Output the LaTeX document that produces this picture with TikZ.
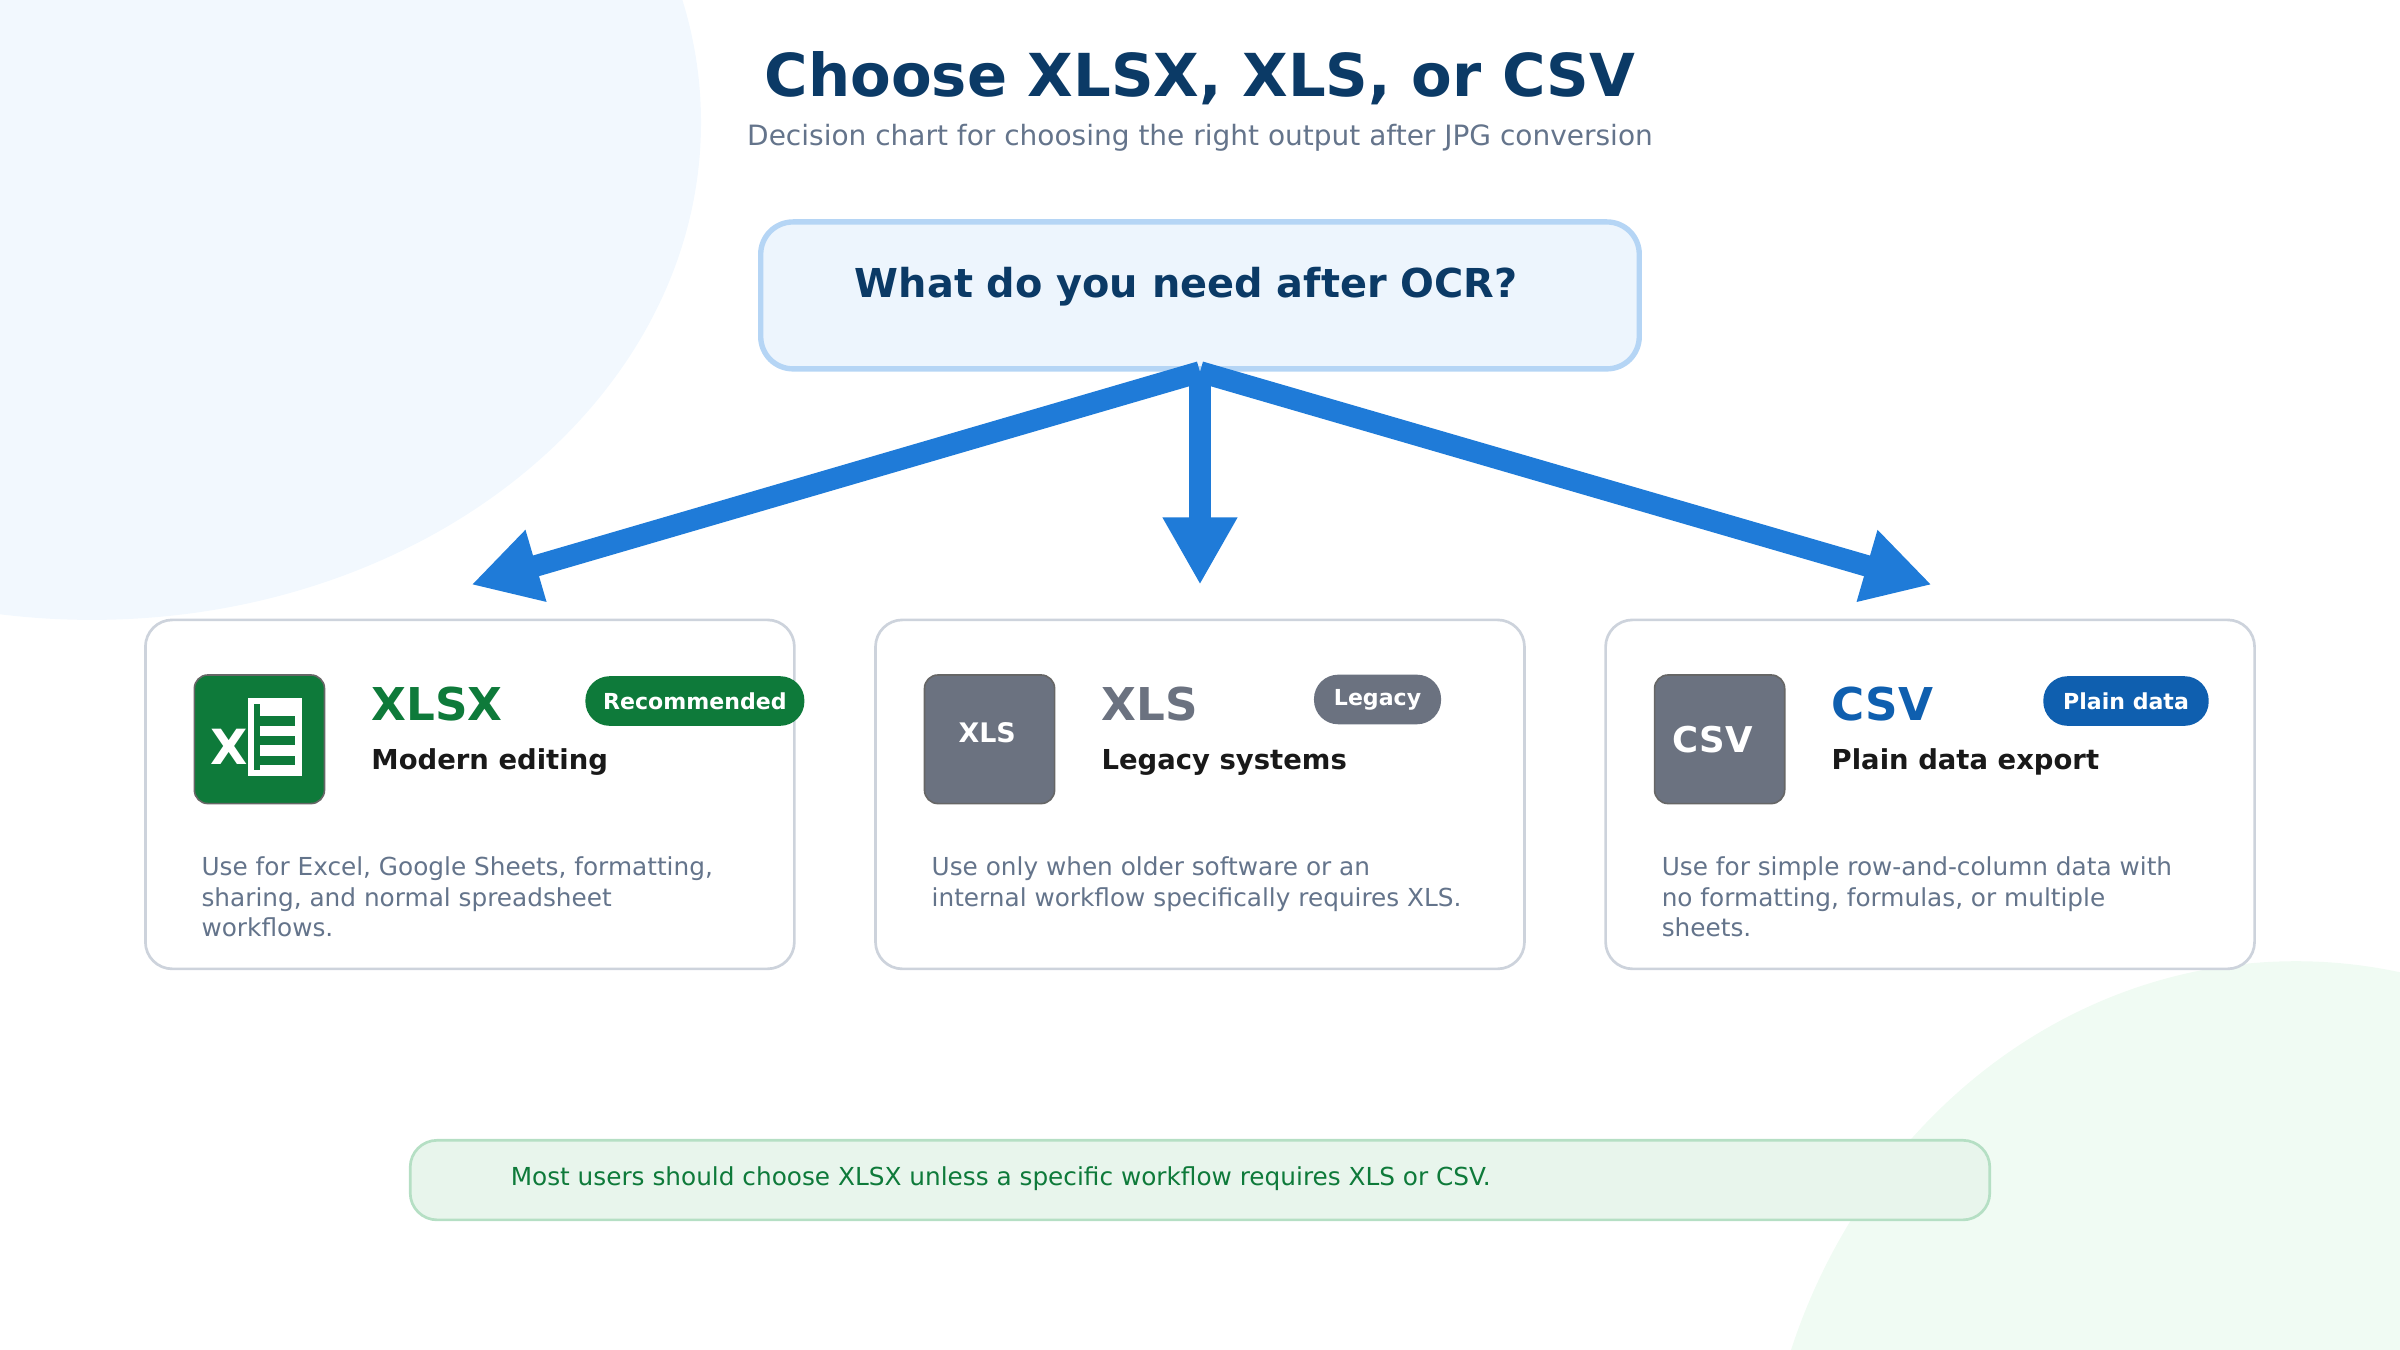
\documentclass[tikz,border=0pt]{standalone}
\usepackage{fontspec}
\setmainfont{DejaVu Sans}
\usetikzlibrary{arrows.meta,positioning}
\definecolor{navy}{HTML}{0B3A66}
\definecolor{greytext}{HTML}{64748B}
\definecolor{arrowblue}{HTML}{1F7BD8}
\definecolor{xgreen}{HTML}{0E7A3A}
\definecolor{slate}{HTML}{6B7280}
\definecolor{csvblue}{HTML}{0F5FAF}
\definecolor{cardline}{HTML}{CDD3DC}
\definecolor{blobblue}{HTML}{F2F8FE}
\definecolor{blobgreen}{HTML}{F0FBF3}
\definecolor{qfill}{HTML}{EDF5FD}
\definecolor{qline}{HTML}{B5D5F5}
\definecolor{nfill}{HTML}{E8F5EC}
\definecolor{nline}{HTML}{B5DFC4}
\begin{document}
\begin{tikzpicture}[x=0.01cm,y=-0.01cm,
    card/.style={draw=cardline,line width=0.5pt,rounded corners=5pt,fill=white},
    icon/.style={rounded corners=2.5pt,draw=black!60,line width=0.3pt},
    pill/.style={rounded corners=4.5pt,inner sep=0pt,minimum height=0.324cm,text=white,font=\fontsize{4.1}{5}\selectfont\bfseries},
    fmt/.style={anchor=base west,inner sep=0pt,font=\fontsize{8.4}{10}\selectfont\bfseries},
    sub/.style={anchor=base west,inner sep=0pt,font=\fontsize{5.1}{6}\selectfont\bfseries,text=black!90},
    body/.style={anchor=north west,inner sep=0pt,align=left,text=greytext,font=\fontsize{4.6}{5.7}\selectfont},
    arr/.style={arrowblue,line width=4pt,-{Triangle[width=13pt,length=12.5pt]}}]
  \useasboundingbox (0,0) rectangle (1568,882);
  \clip (0,0) rectangle (1568,882);
  % background blobs
  \fill[blobblue] (60,80) ellipse [x radius=398, y radius=325];
  \fill[blobgreen] (1500,1010) ellipse [x radius=350, y radius=382];
  % title
  \node[text=navy,font=\fontsize{11}{13}\selectfont\bfseries] (title) at (784,51) {Choose XLSX, XLS, or CSV};
  \node[text=greytext,font=\fontsize{5.2}{6}\selectfont] (subtitle) at (784,90) {Decision chart for choosing the right output after JPG conversion};
  % question
  \draw[draw=qline,fill=qfill,line width=1pt,rounded corners=6pt] (497,145) rectangle (1071,241);
  \node[text=navy,font=\fontsize{7.4}{9}\selectfont\bfseries] (q) at (775,187) {What do you need after OCR?};
  \coordinate (qb) at (784,243);
  \coordinate (t1) at (308,382);
  \coordinate (t2) at (784,382);
  \coordinate (t3) at (1262,382);
  \draw[arr] (qb) -- (t1);
  \draw[arr] (qb) -- (t2);
  \draw[arr] (qb) -- (t3);
  % cards
  \draw[card] (95,405) rectangle (519,633);
  \draw[card] (572,405) rectangle (996,633);
  \draw[card] (1049,405) rectangle (1473,633);
  % XLSX
  \draw[icon,fill=xgreen] (127,441) rectangle (212,525);
  \fill[white] (162,456) rectangle (197,507);
  \foreach \yy in {468,481,494} \fill[xgreen] (170,\yy) rectangle (193,\yy+6);
  \fill[xgreen] (166,460) rectangle (170,503);
  \node[text=white,font=\fontsize{9}{10}\selectfont\bfseries] (xl) at (150,488) {X};
  \node[fmt,text=xgreen] (xlsx) at (242,471) {XLSX};
  \node[sub] (xlsxsub) at (242,503) {Modern editing};
  \node[pill,fill=xgreen,minimum width=1.43cm] (rec) at (454,458) {Recommended};
  \node[body] (xlsxtxt) at (131,559) {Use for Excel, Google Sheets, formatting,\\sharing, and normal spreadsheet\\workflows.};
  % XLS
  \draw[icon,fill=slate] (604,441) rectangle (689,525);
  \node[text=white,font=\fontsize{5}{6}\selectfont\bfseries] (xlsico) at (645,479) {XLS};
  \node[fmt,text=slate] (xls) at (719,471) {XLS};
  \node[sub] (xlssub) at (719,503) {Legacy systems};
  \node[pill,fill=slate,minimum width=0.83cm] (leg) at (900,457) {Legacy};
  \node[body] (xlstxt) at (608,559) {Use only when older software or an\\internal workflow specifically requires XLS.};
  % CSV
  \draw[icon,fill=slate] (1081,441) rectangle (1166,525);
  \node[text=white,font=\fontsize{6.6}{8}\selectfont\bfseries] (csvico) at (1119,483) {CSV};
  \node[fmt,text=csvblue] (csv) at (1196,471) {CSV};
  \node[sub] (csvsub) at (1196,503) {Plain data export};
  \node[pill,fill=csvblue,minimum width=1.08cm] (pd) at (1389,458) {Plain data};
  \node[body] (csvtxt) at (1085,559) {Use for simple row-and-column data with\\no formatting, formulas, or multiple\\sheets.};
  % footer
  \draw[draw=nline,fill=nfill,line width=0.5pt,rounded corners=5pt] (268,745) rectangle (1300,797);
  \node[anchor=west,inner sep=0pt,text=xgreen,font=\fontsize{4.6}{6}\selectfont] (note) at (333,770) {Most users should choose XLSX unless a specific workflow requires XLS or CSV.};
\end{tikzpicture}
\end{document}
